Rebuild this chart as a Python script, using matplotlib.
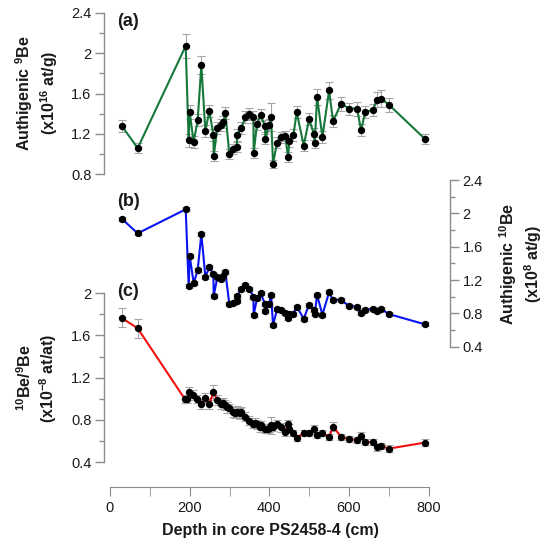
import numpy as np
import matplotlib
matplotlib.use("Agg")
import matplotlib.pyplot as plt
from matplotlib.ticker import MultipleLocator, FuncFormatter

plt.rcParams['font.family'] = ['Liberation Sans', 'DejaVu Sans']
plt.rcParams['mathtext.fontset'] = 'custom'
plt.rcParams['mathtext.rm'] = 'Liberation Sans'
plt.rcParams['mathtext.bf'] = 'Liberation Sans:bold'

# depths shared by panels (a) and (b), cm
depth_ab = [29.3, 69.5, 190.0, 197.5, 200.0, 210.1, 220.1, 229.3, 239.4, 249.4,
            259.5, 260.3, 269.5, 278.7, 284.6, 289.6, 299.6, 309.7, 318.1, 319.7,
            329.8, 339.8, 349.9, 359.9, 360.7, 369.1, 378.3, 389.2, 390.0, 399.2,
            404.3, 409.3, 419.3, 429.4, 439.4, 447.0, 450.3, 460.4, 468.7, 486.3,
            499.7, 512.0, 514.0, 519.8, 533.2, 549.9, 560.0, 580.0, 600.1, 620.2,
            630.3, 640.3, 660.4, 670.4, 680.5, 699.7, 790.9]

# (a) authigenic 9Be, x10^16 at/g
be9 = [1.280, 1.057, 2.073, 1.133, 1.413, 1.117, 1.337, 1.880, 1.227, 1.427,
       1.187, 0.977, 1.260, 1.290, 1.313, 1.407, 0.997, 1.053, 1.070, 1.190,
       1.257, 1.367, 1.400, 1.367, 1.013, 1.300, 1.383, 1.273, 1.147, 1.290,
       1.363, 0.903, 1.113, 1.163, 1.180, 0.973, 1.123, 1.190, 1.413, 1.083,
       1.343, 1.197, 1.113, 1.563, 1.167, 1.630, 1.323, 1.500, 1.450, 1.450,
       1.233, 1.413, 1.440, 1.540, 1.550, 1.490, 1.147]
be9_err = [0.06, 0.05, 0.12, 0.06, 0.07, 0.06, 0.06, 0.09, 0.06, 0.06,
           0.06, 0.05, 0.06, 0.06, 0.06, 0.06, 0.05, 0.05, 0.05, 0.06,
           0.06, 0.06, 0.06, 0.06, 0.05, 0.06, 0.06, 0.06, 0.05, 0.06,
           0.14, 0.04, 0.05, 0.05, 0.05, 0.05, 0.05, 0.06, 0.06, 0.05,
           0.06, 0.06, 0.05, 0.08, 0.06, 0.08, 0.06, 0.07, 0.06, 0.07,
           0.06, 0.06, 0.06, 0.07, 0.08, 0.07, 0.05]

# (b) authigenic 10Be, x10^8 at/g
be10 = [1.936, 1.760, 2.048, 1.124, 1.492, 1.160, 1.320, 1.752, 1.240, 1.352,
        1.272, 1.012, 1.232, 1.212, 1.250, 1.296, 0.908, 0.928, 0.948, 1.008,
        1.092, 1.140, 1.092, 1.000, 0.784, 0.980, 1.040, 0.912, 0.832, 0.912,
        1.020, 0.660, 0.848, 0.840, 0.808, 0.744, 0.792, 0.792, 0.880, 0.736,
        0.904, 0.840, 0.792, 1.020, 0.784, 1.052, 0.960, 0.960, 0.888, 0.880,
        0.800, 0.840, 0.856, 0.824, 0.856, 0.792, 0.668]
be10_err = [0.025] * len(be10)

# (c) 10Be/9Be, x10^-8 at/at
depth_c = [29.3, 69.5, 188.3, 194.2, 199.2, 209.3, 219.3, 229.3, 239.4, 249.4,
           259.5, 269.5, 279.6, 284.6, 289.6, 294.6, 299.6, 309.7, 314.7, 319.7,
           326.4, 329.8, 339.8, 349.9, 359.9, 363.3, 370.0, 376.7, 380.0, 388.4,
           395.9, 400.1, 403.4, 410.1, 420.2, 430.2, 440.3, 447.0, 450.3, 460.4,
           468.7, 486.3, 499.7, 513.1, 519.8, 533.2, 549.9, 560.0, 580.0, 600.1,
           620.2, 630.3, 640.3, 660.4, 670.4, 680.5, 699.7, 790.9]
ratio = [1.766, 1.668, 0.995, 0.995, 1.061, 1.036, 0.995, 0.950, 1.007, 0.953,
         1.061, 0.988, 0.950, 0.957, 0.941, 0.919, 0.909, 0.878, 0.868, 0.878,
         0.862, 0.871, 0.830, 0.792, 0.761, 0.773, 0.757, 0.729, 0.751, 0.716,
         0.716, 0.720, 0.748, 0.735, 0.761, 0.729, 0.688, 0.757, 0.716, 0.672,
         0.625, 0.678, 0.678, 0.710, 0.656, 0.672, 0.640, 0.735, 0.640, 0.615,
         0.609, 0.647, 0.590, 0.590, 0.539, 0.552, 0.527, 0.584]
ratio_err = [0.09, 0.09, 0.04, 0.04, 0.05, 0.05, 0.04, 0.05, 0.05, 0.05,
             0.07, 0.05, 0.05, 0.05, 0.05, 0.05, 0.04, 0.05, 0.05, 0.05,
             0.05, 0.05, 0.04, 0.04, 0.04, 0.04, 0.04, 0.04, 0.04, 0.04,
             0.04, 0.04, 0.08, 0.04, 0.04, 0.04, 0.04, 0.04, 0.04, 0.03,
             0.03, 0.03, 0.03, 0.04, 0.03, 0.03, 0.03, 0.04, 0.03, 0.03,
             0.03, 0.04, 0.03, 0.03, 0.03, 0.03, 0.03, 0.03]

W, H = 548, 547
fig = plt.figure(figsize=(W / 100, H / 100), dpi=100)

def box(py_top, py_bot):
    # axes rectangle from pixel rows; x spans 0..800 cm
    return [110 / W, 1 - py_bot / H, 318.7 / W, (py_bot - py_top) / H]

ax_a = fig.add_axes(box(13, 174))
ax_b = fig.add_axes(box(180, 346.7), sharex=ax_a)
ax_c = fig.add_axes(box(293.3, 462), sharex=ax_a)
for ax in (ax_a, ax_b, ax_c):
    ax.patch.set_visible(False)

axis_col = "#8c8c8c"
txt_col = "#1a1a1a"
fmt = FuncFormatter(lambda v, p: f"{v:g}")

def style(ax, side, ylo, yhi):
    for s in ax.spines.values():
        s.set_visible(False)
    ax.spines[side].set_visible(True)
    ax.spines[side].set_color(axis_col)
    ax.spines[side].set_linewidth(1.0)
    ax.set_ylim(ylo, yhi)
    ax.yaxis.set_major_locator(MultipleLocator(0.4))
    ax.yaxis.set_minor_locator(MultipleLocator(0.2))
    ax.yaxis.set_major_formatter(fmt)
    if side == "right":
        ax.yaxis.tick_right()
        ax.spines[side].set_position(("outward", 15.3))
    else:
        ax.spines[side].set_position(("outward", 4.3))
    ax.tick_params(axis="y", which="major", length=6.5, width=1.0, color=axis_col,
                   labelsize=10.5, labelcolor=txt_col, pad=2.5)
    ax.tick_params(axis="y", which="minor", length=3.5, width=1.0, color=axis_col)
    ax.tick_params(axis="x", which="both", bottom=False, labelbottom=False)

style(ax_a, "left", 0.8, 2.4)
style(ax_b, "right", 0.4, 2.4)
style(ax_c, "left", 0.4, 2.0)

# bottom depth axis, detached below panel (c)
ax_c.spines["bottom"].set_visible(True)
ax_c.spines["bottom"].set_color(axis_col)
ax_c.spines["bottom"].set_position(("outward", 18))
ax_c.set_xlim(0, 800)
ax_c.xaxis.set_major_locator(MultipleLocator(200))
ax_c.xaxis.set_minor_locator(MultipleLocator(100))
ax_c.tick_params(axis="x", which="both", bottom=True, labelbottom=True,
                 color=axis_col, labelsize=10.5, labelcolor=txt_col)
ax_c.tick_params(axis="x", which="major", length=6.5, pad=3.5)
ax_c.tick_params(axis="x", which="minor", length=6.5)

err_kw = dict(fmt="none", ecolor="#a6a6a6", elinewidth=0.8, capsize=2.8, capthick=0.8, zorder=1)
mk_kw = dict(marker="o", ms=4.3, mfc="black", mec="black", lw=1.5, zorder=3)

ax_a.errorbar(depth_ab, be9, yerr=be9_err, **err_kw)
ax_a.plot(depth_ab, be9, color="#16773a", **mk_kw)

ax_b.errorbar(depth_ab, be10, yerr=be10_err, **err_kw)
ax_b.plot(depth_ab, be10, color="#0a14f0", **mk_kw)

ax_c.errorbar(depth_c, ratio, yerr=ratio_err, **err_kw)
ax_c.plot(depth_c, ratio, color="#f01010", **mk_kw)

# panel letters
for lab, py in (("(a)", 22), ("(b)", 202), ("(c)", 292)):
    fig.text(117 / W, 1 - py / H, lab, fontsize=13, fontweight="bold",
             ha="left", va="center", color=txt_col)

lab_kw = dict(rotation=90, ha="center", va="center", fontsize=11.5,
              fontweight="bold", multialignment="center", color=txt_col)
fig.text(37 / W, 1 - 93 / H,
         "Authigenic $^{\\mathbf{9}}$Be\n(x10$^{\\mathbf{16}}$ at/g)", **lab_kw)
fig.text(37 / W, 1 - 378 / H,
         "$^{\\mathbf{10}}$Be/$^{\\mathbf{9}}$Be\n(x10$^{\\mathbf{-8}}$ at/at)", **lab_kw)
fig.text(521 / W, 1 - 264 / H,
         "Authigenic $^{\\mathbf{10}}$Be\n(x10$^{\\mathbf{8}}$ at/g)", **lab_kw)
fig.text(270 / W, 1 - 530 / H, "Depth in core PS2458-4 (cm)",
         ha="center", va="center", fontsize=11.5, fontweight="bold", color=txt_col)

fig.savefig("out.png", dpi=100)
